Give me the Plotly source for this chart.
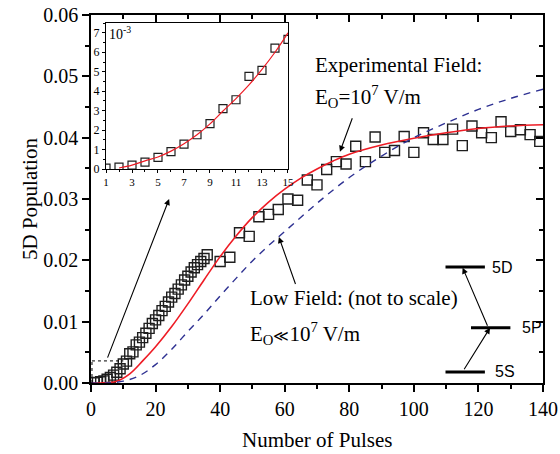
import plotly.graph_objects as go

# ---------------- data ----------------
pulses = [1, 2, 3, 4, 5, 6, 7, 8, 9, 10, 11, 12, 13, 14, 15, 16, 17, 18, 19, 20,
          21, 22, 23, 24, 25, 26, 27, 28, 29, 30, 31, 32, 33, 34, 35, 36,
          40, 43, 46, 49, 52, 55, 58, 61, 64, 67, 70, 73, 76, 79, 82, 85, 88, 91,
          94, 97, 100, 103, 106, 109, 112, 115, 118, 121, 124, 127, 130, 133, 136, 139]
population = [0.00005, 0.0001, 0.0002, 0.00035, 0.0006, 0.00089, 0.00128, 0.00176, 0.00233, 0.0031,
              0.00356, 0.00476, 0.00507, 0.00621, 0.00666, 0.0074, 0.0081, 0.0089, 0.0097, 0.0103,
              0.0110, 0.0118, 0.0125, 0.0132, 0.0140, 0.0146, 0.0153, 0.0160, 0.0168, 0.0174,
              0.0181, 0.0188, 0.0193, 0.0198, 0.0203, 0.0209,
              0.0198, 0.0205, 0.0245, 0.0239, 0.0271, 0.0275, 0.0283, 0.0300, 0.0298, 0.0331,
              0.0323, 0.0348, 0.0361, 0.0357, 0.0386, 0.0361, 0.0401, 0.0376, 0.0379, 0.0402,
              0.0376, 0.0408, 0.0397, 0.0397, 0.0414, 0.0387, 0.0419, 0.0408, 0.0400, 0.0426,
              0.0410, 0.0413, 0.0405, 0.0394]

exp_field_x = [0, 4, 8, 12, 16, 20, 25, 30, 35, 40, 45, 50, 55, 60, 65, 70, 75, 80,
               90, 100, 110, 120, 130, 140]
exp_field_y = [0.0, 0.00002, 0.0003, 0.0015, 0.0036, 0.0059, 0.0092, 0.0129, 0.0168, 0.0206,
               0.0240, 0.0270, 0.0295, 0.0316, 0.0334, 0.0349, 0.0362, 0.0373,
               0.0388, 0.0399, 0.0408, 0.0415, 0.0419, 0.0421]

low_field_x = [0, 5, 10, 15, 20, 25, 30, 35, 40, 45, 50, 55, 60, 70, 80, 90, 100, 110, 120, 130, 140]
low_field_y = [0.0, 0.0, 0.0003, 0.0012, 0.0030, 0.0055, 0.0084, 0.0112, 0.0142, 0.0171, 0.0199,
               0.0224, 0.0247, 0.0293, 0.0335, 0.0370, 0.0400, 0.0424, 0.0446, 0.0464, 0.0479]

# inset (units of 10^-3)
inset_pulses = [1, 2, 3, 4, 5, 6, 7, 8, 9, 10, 11, 12, 13, 14, 15]
inset_population_e3 = [0.05, 0.10, 0.20, 0.35, 0.60, 0.89, 1.28, 1.76, 2.33, 3.10, 3.56, 4.76, 5.07, 6.21, 6.66]
inset_fit_x = [2, 3, 4, 5, 6, 7, 8, 9, 10, 11, 12, 13, 14, 15]
inset_fit_y = [0.05, 0.2, 0.42, 0.62, 0.92, 1.3, 1.76, 2.32, 2.98, 3.62, 4.32, 5.12, 6.0, 7.0]

x_ticks = [0, 20, 40, 60, 80, 100, 120, 140]
inset_x_ticks = [1, 3, 5, 7, 9, 11, 13, 15]

SERIF = "Liberation Serif"
SANS = "Liberation Sans"

fig = go.Figure()

fig.add_trace(go.Scatter(x=pulses, y=population, mode="markers",
                         marker=dict(symbol="square-open", size=10, color="#1e1e1e",
                                     line=dict(width=1.4)),
                         showlegend=False))
fig.add_trace(go.Scatter(x=exp_field_x, y=exp_field_y, mode="lines",
                         line=dict(color="#ee1c25", width=1.6, shape="spline", smoothing=1.0),
                         showlegend=False))
fig.add_trace(go.Scatter(x=low_field_x, y=low_field_y, mode="lines",
                         line=dict(color="#2e3192", width=1.4, dash="7px,6px", shape="spline",
                                   smoothing=1.0),
                         showlegend=False))

# inset
fig.add_trace(go.Scatter(x=inset_pulses, y=inset_population_e3, mode="markers",
                         xaxis="x2", yaxis="y2",
                         marker=dict(symbol="square-open", size=8, color="#1e1e1e",
                                     line=dict(width=1.2)),
                         showlegend=False))
fig.add_trace(go.Scatter(x=inset_fit_x, y=inset_fit_y, mode="lines", xaxis="x2", yaxis="y2",
                         line=dict(color="#ee1c25", width=1.2, shape="spline"),
                         showlegend=False))

# dummy trace for mirrored (inward) ticks on top/right
fig.add_trace(go.Scatter(x=[None], y=[None], xaxis="x3", yaxis="y3", showlegend=False,
                         hoverinfo="skip"))

axis_common = dict(showline=True, linecolor="black", linewidth=1.5, showgrid=False,
                   zeroline=False, tickcolor="black", tickwidth=1.5)

fig.update_layout(
    width=560, height=454,
    margin=dict(l=91, r=17, t=15, b=71),
    paper_bgcolor="white", plot_bgcolor="white",
    font=dict(family=SERIF, color="black"),
    xaxis=dict(range=[0, 140], tickvals=x_ticks, ticks="outside", ticklen=7,
               minor=dict(dtick=10, ticks="outside", ticklen=4, tickcolor="black", tickwidth=1.5),
               tickfont=dict(family=SERIF, size=20),
               automargin=False, **axis_common),
    yaxis=dict(range=[0, 0.06], dtick=0.01, tickformat=".2f", ticks="outside", ticklen=7,
               minor=dict(dtick=0.005, ticks="outside", ticklen=4, tickcolor="black", tickwidth=1.5),
               tickfont=dict(family=SERIF, size=20),
               automargin=False, **axis_common),
    xaxis3=dict(range=[0, 140], overlaying="x", side="top", anchor="y", tickvals=x_ticks,
                ticks="inside", ticklen=7, showticklabels=False,
                minor=dict(dtick=10, ticks="inside", ticklen=4, tickcolor="black", tickwidth=1.5),
                **axis_common),
    yaxis3=dict(range=[0, 0.06], overlaying="y", side="right", anchor="x", dtick=0.01,
                ticks="inside", ticklen=7, showticklabels=False,
                minor=dict(dtick=0.005, ticks="inside", ticklen=4, tickcolor="black", tickwidth=1.5),
                **axis_common),
    xaxis2=dict(domain=[0.0332, 0.4358], anchor="y2", range=[1, 15], tickvals=inset_x_ticks,
                ticks="outside", ticklen=3, mirror=True,
                minor=dict(dtick=1, ticks="outside", ticklen=2, tickcolor="black", tickwidth=1),
                tickfont=dict(family=SERIF, size=11),
                showline=True, linecolor="black", linewidth=1, showgrid=False, zeroline=False,
                tickcolor="black", tickwidth=1),
    yaxis2=dict(domain=[0.5815, 0.978], anchor="x2", range=[0, 7.5], dtick=1,
                ticks="outside", ticklen=3, mirror=True,
                minor=dict(dtick=0.5, ticks="outside", ticklen=2, tickcolor="black", tickwidth=1),
                tickfont=dict(family=SERIF, size=12),
                showline=True, linecolor="black", linewidth=1, showgrid=False, zeroline=False,
                tickcolor="black", tickwidth=1),
)

annotations = [
    # axis titles
    dict(text="Number of Pulses", x=0.5, y=-0.155, xref="paper", yref="paper",
         xanchor="center", yanchor="middle", showarrow=False, font=dict(family=SERIF, size=21)),
    dict(text="5D Population", x=-0.135, y=0.5, xref="paper", yref="paper", textangle=-90,
         xanchor="center", yanchor="middle", showarrow=False, font=dict(family=SERIF, size=21)),
    # labels
    dict(text="Experimental Field:", x=68.75, y=0.0518, xref="x", yref="y",
         xanchor="left", yanchor="middle", showarrow=False, font=dict(family=SERIF, size=21)),
    dict(text="E<sub>O</sub>=10<sup>7</sup> V/m", x=68.75, y=0.0467, xref="x", yref="y",
         xanchor="left", yanchor="middle", showarrow=False, font=dict(family=SERIF, size=21)),
    dict(text="Low Field: (not to scale)", x=48.6, y=0.0138, xref="x", yref="y",
         xanchor="left", yanchor="middle", showarrow=False, font=dict(family=SERIF, size=21)),
    dict(text="E<sub>O</sub><span style=\"font-family:'DejaVu Serif';font-size:15px\">≪</span>10<sup>7</sup> V/m",
         x=48.6, y=0.0080, xref="x", yref="y",
         xanchor="left", yanchor="middle", showarrow=False, font=dict(family=SERIF, size=21)),
    dict(text="10<sup>-3</sup>", x=0.036, y=0.952, xref="paper", yref="paper",
         xanchor="left", yanchor="middle", showarrow=False, font=dict(family=SERIF, size=14)),
    dict(text="5D", x=123.6, y=0.0189, xref="x", yref="y", xanchor="left", yanchor="middle",
         showarrow=False, font=dict(family=SANS, size=16)),
    dict(text="5P", x=132.9, y=0.0090, xref="x", yref="y", xanchor="left", yanchor="middle",
         showarrow=False, font=dict(family=SANS, size=16)),
    dict(text="5S", x=124.6, y=0.0018, xref="x", yref="y", xanchor="left", yanchor="middle",
         showarrow=False, font=dict(family=SANS, size=16)),
]

arrows = [
    ((77.1, 0.0377), (81.1, 0.0434)),      # experimental field arrow
    ((58.2, 0.0238), (63.5, 0.0159)),      # low field arrow
    ((24.2, 0.0300), (4.95, 0.0039)),      # zoom arrow to inset
    ((123.6, 0.0090), (115.3, 0.0020)),    # 5S -> 5P
    ((115.1, 0.0188), (123.0, 0.0091)),    # 5P -> 5D
]
for (hx, hy), (tx, ty) in arrows:
    annotations.append(dict(text="", x=hx, y=hy, ax=tx, ay=ty, xref="x", yref="y",
                            axref="x", ayref="y", showarrow=True, arrowhead=2,
                            arrowsize=1.1, arrowwidth=1.1, arrowcolor="black", standoff=0))
fig.update_layout(annotations=annotations)

shapes = [
    dict(type="line", x0=109.8, x1=122.0, y0=0.0189, y1=0.0189, xref="x", yref="y",
         line=dict(color="black", width=3)),
    dict(type="line", x0=117.7, x1=129.9, y0=0.0090, y1=0.0090, xref="x", yref="y",
         line=dict(color="black", width=3)),
    dict(type="line", x0=109.8, x1=122.0, y0=0.0018, y1=0.0018, xref="x", yref="y",
         line=dict(color="black", width=3)),
    dict(type="line", x0=0.3, x1=10, y0=0.0036, y1=0.0036, xref="x", yref="y",
         line=dict(color="black", width=1, dash="dot")),
    dict(type="line", x0=0.3, x1=0.3, y0=0, y1=0.0036, xref="x", yref="y",
         line=dict(color="black", width=1, dash="dot")),
]
fig.update_layout(shapes=shapes)

fig.write_html("out.html")
